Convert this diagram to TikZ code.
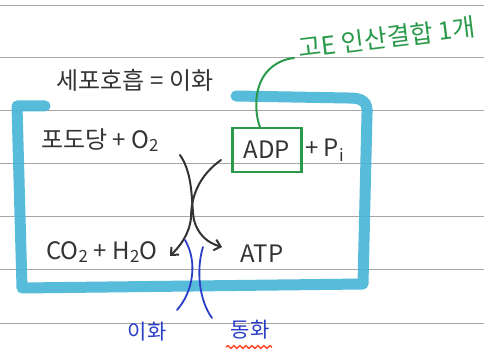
\documentclass[tikz,border=0pt]{standalone}
\usepackage{fontspec}
\setmainfont{Noto Sans CJK KR}
\usetikzlibrary{decorations.pathmorphing,arrows.meta}
\definecolor{ink}{HTML}{333333}
\definecolor{hl}{HTML}{45B4D6}
\definecolor{gr}{HTML}{2A9A4A}
\definecolor{bl}{HTML}{2A3FC8}
\definecolor{rd}{HTML}{FF4A2A}
\tikzset{
  rule/.style={draw=gray!70, line width=0.8pt},
  frame/.style={draw=hl, line width=11pt, line cap=round, line join=round, opacity=0.9},
  txt/.style={text=ink, font=\fontsize{24}{28}\selectfont, inner sep=0pt},
  gtxt/.style={text=gr, font=\fontsize{25}{28}\selectfont, inner sep=0pt},
  btxt/.style={text=bl, font=\fontsize{21}{24}\selectfont, inner sep=0pt},
  flow/.style={draw=ink, line width=2pt, line cap=round, -{Straight Barb[length=6pt,width=11pt]}},
  bline/.style={draw=bl, line width=1.8pt, line cap=round},
  gline/.style={draw=gr, line width=2pt, line cap=round}
}
\begin{document}
\begin{tikzpicture}[x=1pt,y=-1pt]
\useasboundingbox (0,0) rectangle (492,350);
\fill[white] (0,0) rectangle (492,350);
\foreach \yy in {5,57,110,163,216,269,323} \draw[rule] (0,\yy) -- (484,\yy);
% highlighter frame
\draw[frame] (45,106) -- (17,106) -- (22,288) -- (363,284) -- (367,114) .. controls (368,101) and (362,98) .. (348,98) -- (236,96);
% texts
\node[txt] (title) at (135,80) {세포호흡 = 이화};
\node[txt] (glu) at (100,140) {포도당 + O\textsubscript{2}};
\node[txt, minimum width=69pt, minimum height=44pt, draw=gr, line width=2.2pt] (adp) at (267,150) {ADP};
\node[txt, anchor=west] (pi) at (305,150) {+ P\textsubscript{i}};
\node[txt] (co2) at (102,252) {CO\textsubscript{2} + H\textsubscript{2}O};
\node[txt] (atp) at (262,254) {ATP};
\node[gtxt, rotate=7, anchor=south west] (hep) at (300,60) {고E 인산결합 1개};
\node[btxt] (cat) at (147,332) {이화};
\node[btxt] (ana) at (250,330) {동화};
% connectors
\coordinate (a1) at (180,155);
\coordinate (a2) at (221,160);
\coordinate (e1) at (222,247);
\coordinate (e2) at (170,256);
\draw[flow] (a1) .. controls (194,175) and (191,205) .. (194,220) .. controls (198,235) and (208,243) .. (e1);
\draw[flow] (a2) .. controls (200,175) and (191,195) .. (191,218) .. controls (189,235) and (180,246) .. (e2);
\draw[bline] (185,240) .. controls (198,262) and (193,292) .. (177,310);
\draw[bline] (203,247) .. controls (196,270) and (199,300) .. (212,318);
\draw[gline] (adp.north -| 260,0) .. controls (256,118) and (255,100) .. (258,90) .. controls (262,72) and (276,60) .. (294,58);
\draw[draw=rd, line width=1.5pt, decorate, decoration={snake, amplitude=1.3pt, segment length=6pt}] (226,347) -- (272,347);
\end{tikzpicture}
\end{document}
